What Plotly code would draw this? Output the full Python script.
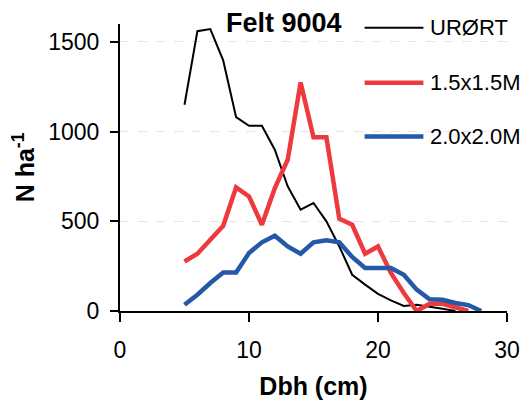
import plotly.graph_objects as go

# Data
dbh = [5, 6, 7, 8, 9, 10, 11, 12, 13, 14, 15, 16, 17, 18, 19, 20, 21, 22, 23, 24, 25, 26, 27, 28]
urort = [1150, 1560, 1572, 1397, 1081, 1033, 1033, 899, 695, 565, 602, 500, 360, 202, 147, 96, 59, 28, 35, 25, 12, 0, None, None]
m15 = [276, 319, 397, 475, 689, 639, 481, 685, 843, 1274, 968, 968, 514, 481, 319, 360, 212, 100, 0, 40, 40, 20, 0, None]
m20 = [35, 91, 156, 215, 215, 323, 383, 420, 360, 319, 383, 394, 383, 301, 240, 240, 240, 202, 119, 65, 63, 45, 33, 0]

series_names = ["URØRT", "1.5x1.5M", "2.0x2.0M"]
series_colors = ["#000000", "#ee3a3e", "#2458a8"]
series_widths = [2, 4.5, 4.5]
series_values = [urort, m15, m20]

x_ticks = [0, 10, 20, 30]
y_ticks = [0, 500, 1000, 1500]

FONT = "Liberation Sans, Arial, sans-serif"

fig = go.Figure()
for name, vals, col, w in zip(series_names, series_values, series_colors, series_widths):
    fig.add_trace(go.Scatter(x=dbh, y=vals, mode="lines", name=name,
                             line=dict(color=col, width=w), showlegend=False,
                             connectgaps=False))

# custom legend (paper coordinates)
leg_y = [0.987, 0.795, 0.608]
for name, col, w, yy in zip(series_names, series_colors, series_widths, leg_y):
    fig.add_shape(type="line", xref="paper", yref="paper", x0=0.632, x1=0.784,
                  y0=yy, y1=yy, line=dict(color=col, width=w))
    fig.add_annotation(xref="paper", yref="paper", x=0.796, y=yy, text=name,
                       showarrow=False, xanchor="left", yanchor="middle",
                       font=dict(family=FONT, size=22, color="black"))

fig.add_annotation(xref="paper", yref="paper", x=0.425, y=1.005, text="<b>Felt 9004</b>",
                   showarrow=False, xanchor="center", yanchor="middle",
                   font=dict(family=FONT, size=27, color="black"))

fig.update_layout(
    width=530, height=401,
    margin=dict(l=119.6, r=23.3, t=24.3, b=89.7),
    paper_bgcolor="white", plot_bgcolor="white",
    font=dict(family=FONT, size=23, color="black"),
)
fig.update_xaxes(range=[0, 30], tickvals=x_ticks, ticks="outside", ticklen=9, tickwidth=2,
                 tickcolor="black", showline=True, linecolor="black", linewidth=2,
                 showgrid=False, zeroline=False, automargin=False, ticklabelstandoff=8,
                 title=dict(text="<b>Dbh (cm)</b>", font=dict(size=25), standoff=16),
                 tickfont=dict(size=23))
fig.update_yaxes(range=[0, 1600], tickvals=y_ticks, ticks="outside", ticklen=8, tickwidth=2,
                 tickcolor="black", showline=True, linecolor="black", linewidth=2,
                 showgrid=True, gridcolor="#e6e6e6", griddash="dash", gridwidth=1,
                 zeroline=False, ticklabelstandoff=6, automargin=False,
                 title=dict(text="<b>N ha<sup>-1</sup></b>", font=dict(size=25), standoff=6),
                 tickfont=dict(size=23))

fig.write_html("out.html", post_script="document.body.style.margin='0';",
               config={"displayModeBar": False})
